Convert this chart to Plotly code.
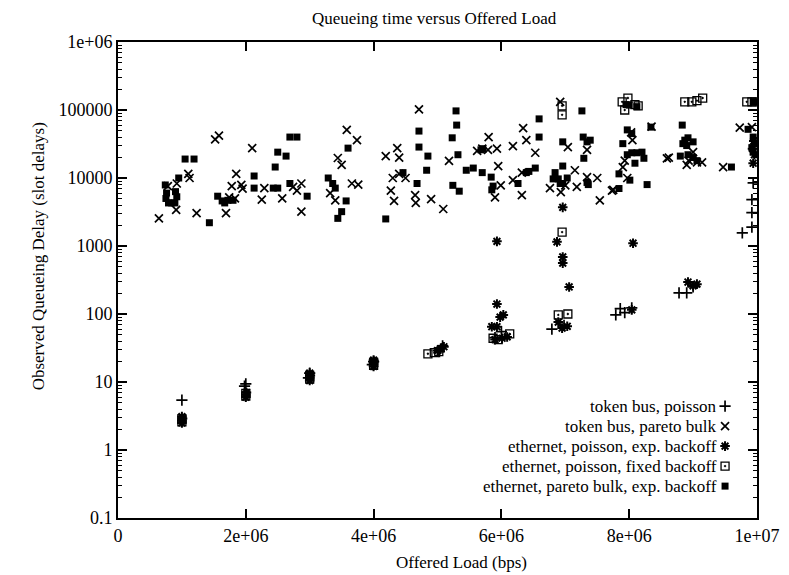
import plotly.graph_objects as go

# ---------------- data ----------------
tb_poisson_x = [1.0e6, 2.0e6, 1.98e6, 3.0e6, 2.98e6, 4.0e6, 3.98e6, 5.08e6, 5.03e6,
                5.9e6, 6.0e6, 6.79e6, 6.98e6, 7.79e6, 7.86e6, 7.93e6, 8.04e6,
                8.78e6, 8.9e6, 9.0e6, 9.77e6, 9.92e6, 9.92e6, 9.92e6, 9.94e6]
tb_poisson_y = [5.4, 9.4, 8.7, 13.5, 11.5, 20, 18, 34, 28,
                45, 55, 60, 68, 97, 120, 105, 123,
                205, 205, 250, 1560, 1900, 3100, 4800, 8500]

tb_pareto_x = [0.64e6, 0.92e6, 0.91e6, 0.78e6, 1.1e6, 1.12e6, 1.23e6, 1.52e6, 1.58e6, 1.69e6,
               1.78e6, 1.74e6, 1.83e6, 1.85e6, 1.93e6, 1.95e6, 2.1e6, 2.25e6, 2.29e6, 2.57e6,
               2.74e6, 2.8e6, 2.87e6, 2.87e6, 3.32e6, 3.4e6, 3.44e6, 3.5e6, 3.58e6, 3.74e6,
               3.66e6, 3.76e6, 4.19e6, 4.37e6, 4.4e6, 4.27e6, 4.32e6, 4.3e6, 4.4e6, 4.5e6,
               4.65e6, 4.66e6, 4.9e6, 4.71e6, 5.09e6, 5.18e6, 5.62e6, 5.7e6, 5.8e6, 5.79e6,
               5.93e6, 5.95e6, 5.9e6, 5.99e6, 6.18e6, 6.34e6, 6.39e6, 6.53e6, 6.18e6, 6.32e6,
               6.32e6, 6.92e6, 7.04e6, 7.34e6, 6.76e6, 6.93e6, 7.0e6, 7.15e6, 7.18e6, 7.34e6,
               7.5e6, 7.54e6, 7.75e6, 7.73e6, 8.03e6, 8.05e6, 7.93e6, 7.9e6, 7.97e6, 8.35e6,
               8.62e6, 8.59e6, 8.93e6, 8.9e6, 9.06e6, 9.14e6, 9.0e6, 9.47e6, 9.73e6, 9.92e6]
tb_pareto_y = [2550, 8300, 3400, 7600, 11500, 10000, 3050, 37000, 42000, 3050,
               7600, 5200, 5000, 11500, 7900, 7000, 27500, 4800, 7100, 5000,
               7400, 6500, 8300, 3200, 6000, 4700, 19700, 15600, 51000, 36000,
               8300, 8000, 21000, 27500, 20000, 6500, 4600, 10000, 11500, 10000,
               5600, 4300, 4900, 102000, 3500, 17800, 25000, 27000, 40000, 26000,
               27000, 15000, 5200, 7800, 29500, 54000, 36000, 23500, 9300, 12000,
               5600, 132000, 28500, 26000, 7100, 6200, 7800, 13000, 7400, 10300,
               10000, 4700, 6700, 6500, 47000, 36000, 18000, 14500, 10000, 57000,
               20000, 19500, 18000, 15600, 17000, 17000, 24000, 14500, 55000, 56000]

eth_exp_x = [1.0e6, 1.0e6, 1.01e6, 1.0e6, 2.0e6, 2.0e6, 2.01e6, 3.0e6, 3.0e6, 3.01e6, 3.0e6,
             4.0e6, 4.0e6, 4.01e6, 4.0e6, 5.0e6, 5.05e6, 5.1e6,
             5.85e6, 5.93e6, 5.98e6, 6.03e6, 5.9e6, 6.01e6, 6.09e6, 5.93e6, 5.93e6,
             6.87e6, 6.89e6, 6.95e6, 7.03e6, 6.96e6, 6.96e6, 7.06e6, 6.96e6,
             8.06e6, 8.04e6, 8.92e6, 9.06e6, 9.0e6,
             9.95e6, 9.93e6, 9.96e6, 9.94e6]
eth_exp_y = [2.5, 2.7, 2.9, 3.1, 6.0, 6.5, 7.0, 10.5, 11.5, 12.5, 13.5,
             17, 18.5, 20, 21, 29, 31, 33,
             65, 65, 90, 97, 42, 44, 46, 140, 1170,
             1150, 76, 62, 66, 690, 560, 250, 3700,
             1100, 115, 295, 275, 260,
             35000, 27000, 22000, 16500]

eth_fixed_x = [1.0e6, 1.0e6, 2.0e6, 2.0e6, 3.0e6, 3.0e6, 4.0e6, 4.0e6, 4.85e6, 4.95e6, 5.02e6,
               5.87e6, 5.95e6, 6.13e6, 6.89e6, 7.04e6, 6.95e6, 6.95e6, 6.95e6,
               7.89e6, 7.93e6, 7.98e6, 8.09e6, 8.14e6, 8.87e6, 8.98e6, 9.06e6, 9.15e6,
               9.84e6, 9.92e6, 9.97e6]
eth_fixed_y = [2.6, 2.9, 6.2, 6.8, 11, 12.5, 17.5, 19.5, 26, 27, 28,
               44, 42, 51, 97, 100, 1600, 85000, 115000,
               132000, 100000, 150000, 120000, 115000, 132000, 132000, 137000, 150000,
               132000, 132000, 132000]

eth_pareto_x = [0.74e6, 0.76e6, 0.79e6, 0.84e6, 0.89e6, 0.92e6, 0.9e6, 0.75e6, 0.95e6,
                1.05e6, 1.19e6, 1.43e6, 1.56e6, 1.63e6, 1.67e6, 1.72e6, 1.8e6,
                2.13e6, 2.13e6, 2.43e6, 2.5e6, 2.46e6, 2.5e6, 2.63e6, 2.69e6, 2.8e6, 2.69e6, 2.96e6,
                3.29e6, 3.36e6, 3.4e6, 3.44e6, 3.5e6, 3.57e6, 3.6e6, 4.19e6, 4.46e6, 4.68e6,
                4.71e6, 4.71e6, 4.85e6, 4.83e6, 5.29e6, 5.3e6, 5.23e6, 5.32e6, 5.24e6, 5.34e6,
                5.45e6, 5.56e6, 5.7e6, 5.84e6, 5.71e6, 5.68e6, 5.85e6, 5.87e6,
                6.59e6, 6.59e6, 6.26e6, 6.39e6, 6.43e6, 6.53e6, 6.96e6, 7.26e6,
                7.28e6, 7.34e6, 7.39e6, 7.29e6, 6.96e6, 6.84e6, 6.81e6, 6.89e6, 6.92e6, 6.96e6,
                7.03e6, 7.34e6, 7.36e6, 7.84e6, 7.84e6, 7.95e6, 8.0e6, 8.12e6,
                7.97e6, 7.9e6, 8.04e6, 7.97e6, 8.04e6, 8.12e6, 8.2e6, 8.23e6, 8.09e6,
                8.01e6, 8.28e6, 8.34e6, 8.83e6, 8.87e6, 8.9e6, 8.92e6, 9.0e6, 8.84e6,
                8.8e6, 8.92e6, 9.0e6, 9.06e6, 9.6e6, 9.86e6, 9.94e6, 9.96e6, 9.92e6, 9.94e6,
                9.94e6, 9.97e6]
eth_pareto_y = [7900, 6000, 4300, 4300, 4300, 5300, 6300, 5000, 10000,
                19000, 19000, 2200, 5400, 4600, 4300, 4700, 4700,
                10700, 7100, 7100, 7100, 14500, 24000, 21000, 40000, 40000, 8300, 5400,
                10000, 8300, 7100, 2550, 3200, 4600, 27500, 2500, 12000, 8300,
                49000, 28500, 21000, 13000, 97000, 60000, 39000, 22000, 7800, 6400,
                13000, 14000, 12000, 10300, 27000, 26000, 6700, 7600,
                74000, 40000, 8300, 12000, 12500, 14000, 34000, 97000,
                40000, 34000, 36000, 19500, 15000, 12000, 9700, 9700, 8300, 8300,
                10000, 8600, 8000, 7000, 11500, 120000, 118000, 112000,
                51000, 32000, 45000, 22000, 23500, 23500, 24000, 19500, 16500,
                9300, 8000, 56000, 60000, 36000, 30000, 39000, 34000, 32000,
                21000, 22000, 20000, 18000, 14500, 52000, 40000, 32000, 28000, 25000,
                132000, 132000]

legend_labels = ["token bus, poisson", "token bus, pareto bulk",
                 "ethernet, poisson, exp. backoff", "ethernet, poisson, fixed backoff",
                 "ethernet, pareto bulk, exp. backoff"]

x_tickvals = [0, 2e6, 4e6, 6e6, 8e6, 1e7]
x_ticktext = ["0", "2e+06", "4e+06", "6e+06", "8e+06", "1e+07"]
y_tickvals = [0.1, 1, 10, 100, 1000, 10000, 100000, 1000000]
y_ticktext = ["0.1", "1", "10", "100", "1000", "10000", "100000", "1e+06"]

# ---------------- styles ----------------
FONT = "Liberation Serif"
styles = [
    dict(symbol="cross-thin-open", size=8, line=dict(width=1.7, color="black"), color="black"),
    dict(symbol="x-thin-open", size=8, line=dict(width=1.7, color="black"), color="black"),
    dict(symbol="asterisk-open", size=8, line=dict(width=2, color="black"), color="black"),
    dict(symbol="square-open-dot", size=8, line=dict(width=1.3, color="black"), color="black"),
    dict(symbol="square", size=7, line=dict(width=0, color="black"), color="black"),
]
series = [(tb_poisson_x, tb_poisson_y), (tb_pareto_x, tb_pareto_y),
          (eth_exp_x, eth_exp_y), (eth_fixed_x, eth_fixed_y),
          (eth_pareto_x, eth_pareto_y)]

fig = go.Figure()
for (xs, ys), st, name in zip(series, styles, legend_labels):
    fig.add_trace(go.Scatter(x=xs, y=ys, mode="markers", marker=st, name=name,
                             showlegend=False, hoverinfo="skip"))

# custom gnuplot-style key: text right-aligned, sample on the right
key_rows = [0.235, 0.193, 0.151, 0.109, 0.067]
for st, name, ry in zip(styles, legend_labels, key_rows):
    fig.add_trace(go.Scatter(x=[0.950], y=[ry], mode="markers", marker=st,
                             xaxis="x2", yaxis="y2", showlegend=False, hoverinfo="skip"))
    fig.add_annotation(x=0.941, y=ry, xref="paper", yref="paper", text=name,
                       showarrow=False, xanchor="right", yanchor="middle",
                       font=dict(family=FONT, size=17, color="black"))

# titles
fig.add_annotation(x=0.496, y=1.050, xref="paper", yref="paper",
                   text="Queueing time versus Offered Load", showarrow=False,
                   xanchor="center", yanchor="middle",
                   font=dict(family=FONT, size=17, color="black"))
fig.add_annotation(x=-0.125, y=0.55, xref="paper", yref="paper",
                   text="Observed Queueing Delay (slot delays)", showarrow=False,
                   textangle=-90, xanchor="center", yanchor="middle",
                   font=dict(family=FONT, size=17, color="black"))
fig.add_annotation(x=0.537, y=-0.094, xref="paper", yref="paper",
                   text="Offered Load (bps)", showarrow=False,
                   xanchor="center", yanchor="middle",
                   font=dict(family=FONT, size=17, color="black"))

minor_vals = [k * 10.0 ** d for d in range(-1, 6) for k in range(2, 10)]

fig.update_layout(
    width=789, height=575, autosize=False,
    margin=dict(l=118, r=32, t=42, b=57),
    paper_bgcolor="white", plot_bgcolor="white",
    font=dict(family=FONT, size=17, color="black"),
    xaxis=dict(range=[0, 1e7], tickmode="array", tickvals=x_tickvals, ticktext=x_ticktext,
               ticks="inside", ticklen=9, tickwidth=1.5, tickcolor="black",
               showline=True, linewidth=2, linecolor="black", mirror="ticks",
               showgrid=False, zeroline=False, ticklabelstandoff=0, automargin=False,
               tickfont=dict(family=FONT, size=18)),
    yaxis=dict(type="log", range=[-1, 6], tickmode="array", tickvals=y_tickvals,
               ticktext=y_ticktext, ticks="inside", ticklen=9, tickwidth=1.5, tickcolor="black",
               showline=True, linewidth=2, linecolor="black", mirror="ticks",
               showgrid=False, zeroline=False, automargin=False,
               minor=dict(tickmode="array", tickvals=minor_vals, ticks="inside",
                          ticklen=4, tickwidth=1, tickcolor="black", showgrid=False),
               tickfont=dict(family=FONT, size=18)),
    xaxis2=dict(range=[0, 1], overlaying="x", visible=False),
    yaxis2=dict(range=[0, 1], overlaying="y", visible=False),
)

# remove the default 8px page margin so the figure sits at the window origin
fig.write_html("out.html", config={"displayModeBar": False},
               post_script="document.body.style.margin='0';")
